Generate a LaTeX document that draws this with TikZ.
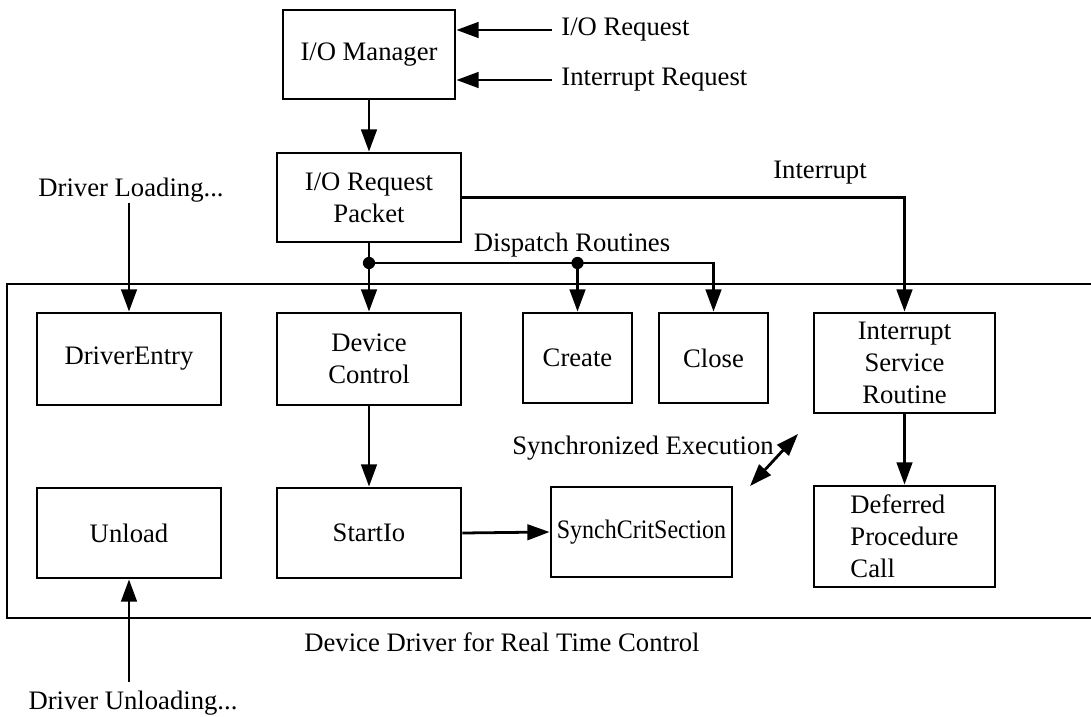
\documentclass[tikz,border=0pt]{standalone}
\usepackage{fontspec}
\setmainfont{Liberation Serif}
\usetikzlibrary{arrows.meta}
\begin{document}
\begin{tikzpicture}[x=0.45pt,y=-0.45pt,
  font=\fontsize{12}{14.4}\selectfont,
  line width=1.25pt,
  arr/.style={-{Triangle[length=10pt,width=7pt]}},
  darr/.style={{Triangle[length=10pt,width=7pt]}-{Triangle[length=10pt,width=7pt]}},
  box/.style={draw,rectangle,inner sep=0pt,align=center},
  lbl/.style={inner sep=0pt},
  dot/.style={circle,fill,inner sep=0pt,minimum size=5.5pt}]
\useasboundingbox (0,0) rectangle (1091,717);
% frame (open at the right)
\draw (1091,284) -- (7,284) -- (7,618) -- (1091,618);
% boxes
\node[box,minimum width=77.4pt,minimum height=40pt] (mgr) at (369,54.5) {I/O Manager};
\node[box,minimum width=82.8pt,minimum height=40pt] (irp) at (369,197.5) {I/O Request\\Packet};
\node[box,minimum width=82.8pt,minimum height=41.4pt] (de) at (129,359) {DriverEntry};
\node[box,minimum width=82.8pt,minimum height=41.4pt] (dc) at (369,359) {Device\\Control};
\node[box,minimum width=49pt,minimum height=40.5pt] (create) at (577.5,358) {Create};
\node[box,minimum width=49pt,minimum height=40.5pt] (close) at (713.5,358) {Close};
\node[box,minimum width=81.5pt,minimum height=45pt] (isr) at (904.5,363) {Interrupt\\Service\\Routine};
\node[box,minimum width=81.5pt,minimum height=45.5pt,align=left] (dpc) at (904.5,536.5) {Deferred\\Procedure\\Call};
\node[box,minimum width=82.8pt,minimum height=40.5pt] (unload) at (129,533) {Unload};
\node[box,minimum width=82.8pt,minimum height=40.5pt] (startio) at (369,533) {StartIo};
\node[box,minimum width=81.5pt,minimum height=40.5pt] (scs) at (641.5,532) {\scalebox{0.9}[1]{SynchCritSection}};
% labels
\node[lbl,anchor=west] (req) at (560,30) {I/O Request};
\node[lbl,anchor=west] (ireq) at (560,80) {Interrupt Request};
\node[lbl] (intr) at (820,173) {Interrupt};
\node[lbl] (disp) at (572,245) {Dispatch Routines};
\node[lbl] (dl) at (131,190) {Driver Loading...};
\node[lbl] (sync) at (643,448) {Synchronized Execution};
\node[lbl] (ddrv) at (502,642) {Device Driver for Real Time Control};
\node[lbl] (dul) at (133,703) {Driver Unloading...};
% coordinates
\coordinate (reqL) at (552,30);
\coordinate (ireqL) at (552,80);
\coordinate (d1) at (369,263);
\coordinate (d2) at (577.5,263);
\coordinate (sa) at (750,486);
\coordinate (sb) at (798,434);
\coordinate (dlS) at (129,203);
\coordinate (dulN) at (129,682);
% connectors
\draw[arr] (reqL) -- (reqL -| mgr.east);
\draw[arr] (ireqL) -- (ireqL -| mgr.east);
\draw[arr] (mgr.south) -- (irp.north);
\draw[arr] (irp.south) -- (dc.north);
\draw[arr] (d1) -| (close.north);
\draw[arr] (d2) -- (create.north);
\node[dot] at (d1) {};
\node[dot] at (d2) {};
\draw[arr] (irp.east) -| (isr.north);
\draw[arr] (dlS) -- (de.north);
\draw[arr] (dc.south) -- (startio.north);
\draw[arr] (startio.east) -- (scs.west);
\draw[arr] (isr.south) -- (dpc.north);
\draw[arr] (dulN) -- (unload.south);
\draw[darr] (sa) -- (sb);
\end{tikzpicture}
\end{document}
